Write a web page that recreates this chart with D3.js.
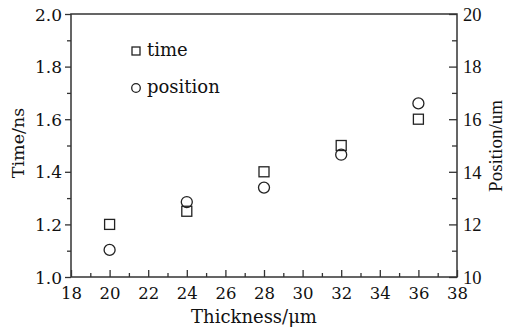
<!DOCTYPE html>
<html>
<head>
<meta charset="utf-8">
<script src="https://cdn.jsdelivr.net/npm/d3@7"></script>
<style>
  body { margin: 0; background: #fff; }
  svg { display: block; }
  .axis text { fill: #111; }
</style>
</head>
<body>
<svg id="chart"></svg>
<script>
// data
const thickness = [20, 24, 28, 32, 36];
const timeNs = [1.2, 1.25, 1.4, 1.5, 1.6];
const positionUm = [11.03, 12.85, 13.4, 14.65, 16.6];
const xTicks = [18, 20, 22, 24, 26, 28, 30, 32, 34, 36, 38];
const yLeftTicks = [1.0, 1.2, 1.4, 1.6, 1.8, 2.0];
const yRightTicks = [10, 12, 14, 16, 18, 20];

const W = 505, H = 331;
const margin = {top: 14, right: 48, bottom: 54, left: 71};
const width = W - margin.left - margin.right;
const height = H - margin.top - margin.bottom;

const serifA = '"DejaVu Serif", serif';
const serifB = '"Liberation Serif", "Times New Roman", serif';

const svg = d3.select('#chart').attr('width', W).attr('height', H);
const chart = svg.append('g').attr('transform', `translate(${margin.left},${margin.top})`);

const x = d3.scaleLinear().domain([18, 38]).range([0, width]);
const yL = d3.scaleLinear().domain([1.0, 2.0]).range([height, 0]);
const yR = d3.scaleLinear().domain([10, 20]).range([height, 0]);

// frame
chart.append('rect')
  .attr('width', width).attr('height', height)
  .attr('fill', 'none').attr('stroke', '#333').attr('stroke-width', 1.5);

// minor ticks (drawn with axes, no labels)
const xMinor = d3.range(19, 38, 2);
chart.append('g')
  .attr('transform', `translate(0,${height})`)
  .call(d3.axisTop(x).tickValues(xMinor).tickSize(4).tickFormat(''))
  .call(g => g.select('.domain').remove())
  .selectAll('line').attr('stroke', '#333').attr('stroke-width', 1.3);

chart.append('g')
  .call(d3.axisLeft(yL).tickValues([1.1, 1.3, 1.5, 1.7, 1.9]).tickSize(4).tickFormat(''))
  .call(g => g.select('.domain').remove())
  .selectAll('line').attr('stroke', '#333').attr('stroke-width', 1.3);

chart.append('g')
  .attr('transform', `translate(${width},0)`)
  .call(d3.axisLeft(yR).tickValues([11, 13, 15, 17, 19]).tickSize(5).tickFormat(''))
  .call(g => g.select('.domain').remove())
  .selectAll('line').attr('stroke', '#333').attr('stroke-width', 1.3);

// bottom axis, ticks inward
const xAxisG = chart.append('g')
  .attr('class', 'axis')
  .attr('transform', `translate(0,${height})`)
  .call(d3.axisTop(x).tickValues(xTicks).tickSize(7).tickFormat(d3.format('d')));
xAxisG.select('.domain').remove();
xAxisG.selectAll('line').attr('stroke', '#333').attr('stroke-width', 1.3);
xAxisG.selectAll('text')
  .attr('y', 22).attr('dy', 0)
  .style('font-family', serifA).style('font-size', '16.5px');

// left axis, ticks outward
const yLG = chart.append('g')
  .attr('class', 'axis')
  .call(d3.axisLeft(yL).tickValues(yLeftTicks).tickSize(6).tickPadding(3).tickFormat(d3.format('.1f')));
yLG.select('.domain').remove();
yLG.selectAll('line').attr('stroke', '#333').attr('stroke-width', 1.3);
yLG.selectAll('text')
  .attr('dy', '0.36em')
  .style('font-family', serifA).style('font-size', '17px');

// right axis, ticks inward, labels outside
const yRG = chart.append('g')
  .attr('class', 'axis')
  .attr('transform', `translate(${width},0)`)
  .call(d3.axisLeft(yR).tickValues(yRightTicks).tickSize(8).tickFormat(d3.format('d')));
yRG.select('.domain').remove();
yRG.selectAll('line').attr('stroke', '#333').attr('stroke-width', 1.3);
yRG.selectAll('text')
  .attr('x', 6).attr('dy', '0.34em')
  .style('text-anchor', 'start')
  .style('font-family', serifB).style('font-size', '18.5px');

// axis titles
svg.append('text')
  .attr('transform', `translate(24,143) rotate(-90)`)
  .attr('text-anchor', 'middle')
  .style('font-family', serifA).style('font-size', '17.5px').attr('fill', '#111')
  .text('Time/ns');

svg.append('text')
  .attr('transform', `translate(502,146) rotate(-90)`)
  .attr('text-anchor', 'middle')
  .style('font-family', serifB).style('font-size', '19px').attr('fill', '#111')
  .text('Position/um');

svg.append('text')
  .attr('x', 254).attr('y', 323)
  .attr('text-anchor', 'middle')
  .style('font-family', serifA).style('font-size', '18px').attr('fill', '#111')
  .text('Thickness/\u03bcm');

// markers
const sq = 10;
chart.selectAll('.sq')
  .data(thickness)
  .join('rect')
  .attr('class', 'sq')
  .attr('x', (d, i) => x(d) - sq / 2)
  .attr('y', (d, i) => yL(timeNs[i]) - sq / 2)
  .attr('width', sq).attr('height', sq)
  .attr('fill', 'none').attr('stroke', '#222').attr('stroke-width', 1.3);

chart.selectAll('.circ')
  .data(thickness)
  .join('circle')
  .attr('class', 'circ')
  .attr('cx', d => x(d))
  .attr('cy', (d, i) => yR(positionUm[i]))
  .attr('r', 5.5)
  .attr('fill', 'none').attr('stroke', '#222').attr('stroke-width', 1.3);

// legend
const legend = svg.append('g');
legend.append('rect')
  .attr('x', 132).attr('y', 47).attr('width', 8).attr('height', 8)
  .attr('fill', 'none').attr('stroke', '#222').attr('stroke-width', 1.3);
legend.append('text')
  .attr('x', 147).attr('y', 56)
  .style('font-family', serifA).style('font-size', '18px').attr('fill', '#111')
  .text('time');
legend.append('circle')
  .attr('cx', 136).attr('cy', 88).attr('r', 4.3)
  .attr('fill', 'none').attr('stroke', '#222').attr('stroke-width', 1.3);
legend.append('text')
  .attr('x', 147).attr('y', 93)
  .style('font-family', serifA).style('font-size', '18px').attr('fill', '#111')
  .text('position');
</script>
</body>
</html>
